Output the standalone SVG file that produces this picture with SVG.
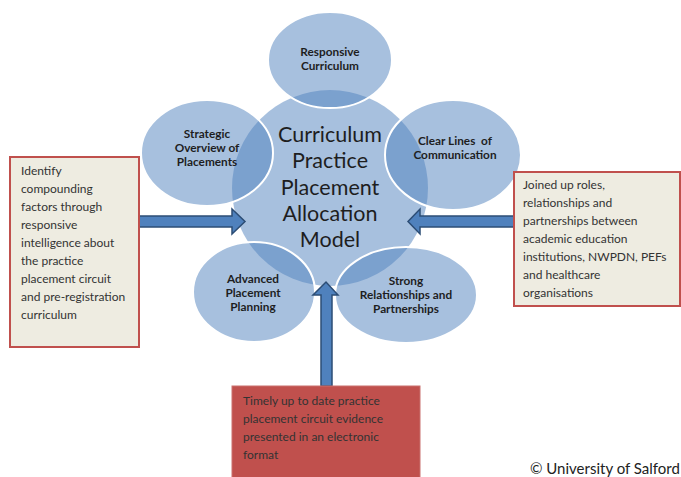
<svg xmlns="http://www.w3.org/2000/svg" width="681" height="477" viewBox="0 0 681 477">
<style>
.bub{fill:#4f81bd;fill-opacity:0.5;stroke:#ffffff;stroke-width:2}
.core{fill:#4f81bd;fill-opacity:0.5;stroke:none}
.lbl{font-family:Lato,"Liberation Sans",sans-serif;font-size:11.8px;font-weight:bold;fill:#1e1e1e;text-anchor:middle}
.big{font-family:Lato,"Liberation Sans",sans-serif;font-size:21.5px;fill:#1e1e1e;text-anchor:middle}
.box{fill:#eeece1;stroke:#c0504d;stroke-width:2}
.btxt{font-family:Lato,"Liberation Sans",sans-serif;font-size:12px;fill:#333333}
.arr{fill:#4f81bd;stroke:#2c4d75;stroke-width:1.5;stroke-linejoin:miter}
</style>
<rect width="681" height="477" fill="#ffffff"/>
<g id="core">
<circle class="core" cx="330" cy="188" r="98"/>
</g>
<g id="responsive-curriculum">
<ellipse class="bub" cx="330" cy="60" rx="62" ry="48"/>
<text class="lbl" x="330" y="56">Responsive</text>
<text class="lbl" x="330" y="70">Curriculum</text>
</g>
<g id="strategic-overview">
<ellipse class="bub" cx="207" cy="153" rx="66" ry="53"/>
<text class="lbl" x="207" y="138">Strategic</text>
<text class="lbl" x="207" y="152">Overview of</text>
<text class="lbl" x="207" y="166">Placements</text>
</g>
<g id="clear-lines">
<ellipse class="bub" cx="453" cy="155" rx="68" ry="55"/>
<text class="lbl" x="455" y="145" xml:space="preserve">Clear Lines  of</text>
<text class="lbl" x="455" y="159">Communication</text>
</g>
<g id="advanced-planning">
<ellipse class="bub" cx="254" cy="292" rx="61" ry="50"/>
<text class="lbl" x="253" y="283">Advanced</text>
<text class="lbl" x="253" y="297">Placement</text>
<text class="lbl" x="253" y="311">Planning</text>
</g>
<g id="strong-relationships">
<ellipse class="bub" cx="406" cy="295" rx="71" ry="48"/>
<text class="lbl" x="406" y="285">Strong</text>
<text class="lbl" x="406" y="299">Relationships and</text>
<text class="lbl" x="406" y="313">Partnerships</text>
</g>
<g id="core-label">
<text class="big" x="330" y="142">Curriculum</text>
<text class="big" x="330" y="168">Practice</text>
<text class="big" x="330" y="195">Placement</text>
<text class="big" x="330" y="221">Allocation</text>
<text class="big" x="330" y="247">Model</text>
</g>
<g id="connectors">
<polygon class="arr" points="139,216 232,216 232,209 245,221.5 232,234 232,227 139,227"/>
<polygon class="arr" points="514,216 420,216 420,209 408,221.5 420,234 420,227 514,227"/>
<polygon class="arr" points="321,386 321,295 313,295 326,282 338,295 332,295 332,386"/>
</g>
<g id="left-box">
<rect class="box" x="10" y="157" width="129" height="190"/>
<text class="btxt" x="21" y="175">Identify</text>
<text class="btxt" x="21" y="193">compounding</text>
<text class="btxt" x="21" y="211">factors through</text>
<text class="btxt" x="21" y="229">responsive</text>
<text class="btxt" x="21" y="247">intelligence about</text>
<text class="btxt" x="21" y="265">the practice</text>
<text class="btxt" x="21" y="283">placement circuit</text>
<text class="btxt" x="21" y="301">and pre-registration</text>
<text class="btxt" x="21" y="319">curriculum</text>
</g>
<g id="right-box">
<rect class="box" x="514" y="172" width="166" height="134"/>
<text class="btxt" x="523" y="189">Joined up roles,</text>
<text class="btxt" x="523" y="207">relationships and</text>
<text class="btxt" x="523" y="225">partnerships between</text>
<text class="btxt" x="523" y="243">academic education</text>
<text class="btxt" x="523" y="261">institutions, NWPDN, PEFs</text>
<text class="btxt" x="523" y="279">and healthcare</text>
<text class="btxt" x="523" y="297">organisations</text>
</g>
<g id="bottom-box">
<rect x="232" y="386" width="188" height="95" fill="#c0504d" stroke="#c9716e" stroke-width="1"/>
<text class="btxt" x="243" y="405">Timely up to date practice</text>
<text class="btxt" x="243" y="423">placement circuit evidence</text>
<text class="btxt" x="243" y="441">presented in an electronic</text>
<text class="btxt" x="243" y="459">format</text>
</g>
<text x="530" y="474" font-family="Lato,'Liberation Sans',sans-serif" font-size="15" fill="#222222">© University of Salford</text>
</svg>
